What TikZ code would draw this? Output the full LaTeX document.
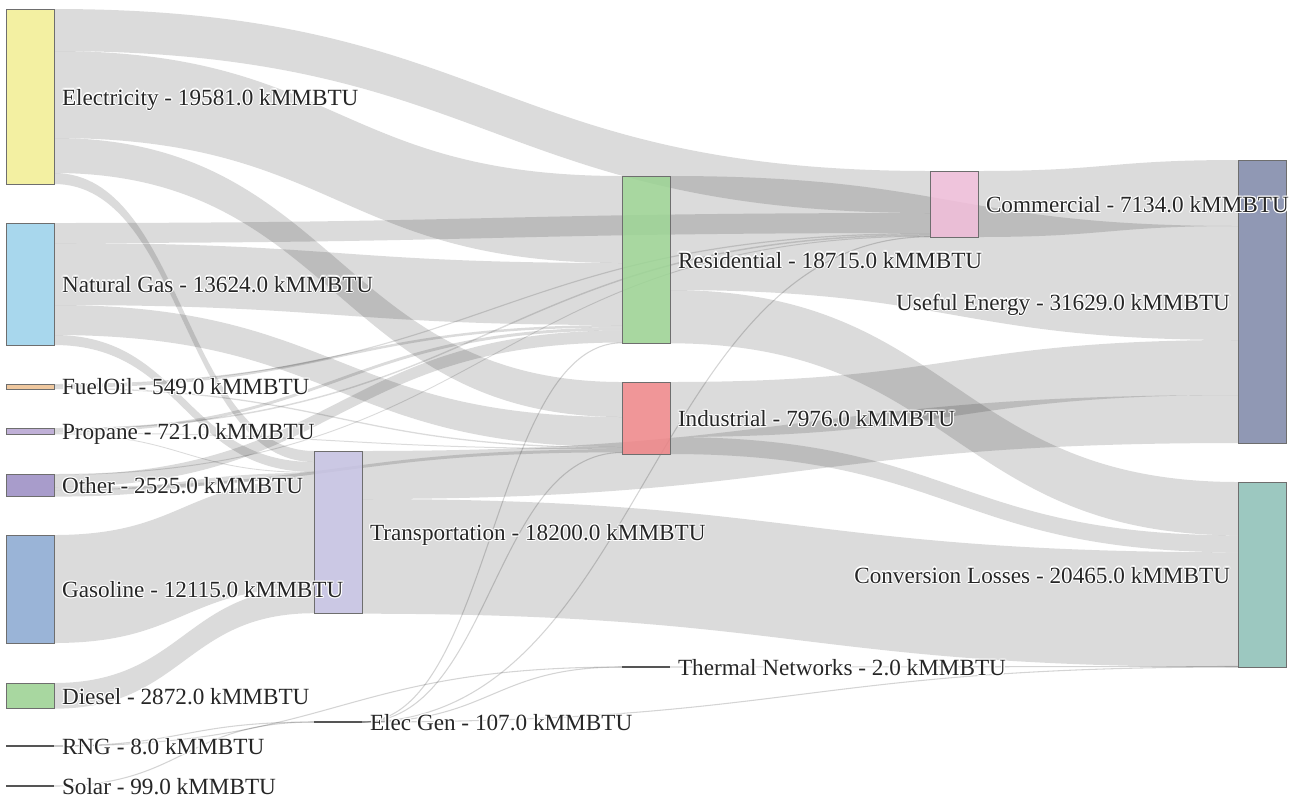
\documentclass[tikz,border=0pt]{standalone}
\usepackage{fontspec}
\setmainfont{Liberation Serif}
\usetikzlibrary{calc}
\definecolor{cE}{HTML}{F2EE92}
\definecolor{cNG}{HTML}{99D1EB}
\definecolor{cFO}{HTML}{EDBF8F}
\definecolor{cPr}{HTML}{B5A3D1}
\definecolor{cOth}{HTML}{998BC3}
\definecolor{cGas}{HTML}{89A7D1}
\definecolor{cDsl}{HTML}{99D190}
\definecolor{cTra}{HTML}{C3BFE0}
\definecolor{cRes}{HTML}{99D190}
\definecolor{cInd}{HTML}{EE8486}
\definecolor{cCom}{HTML}{EDBAD6}
\definecolor{cUE}{HTML}{7D87A7}
\definecolor{cCL}{HTML}{8BBFB5}
\definecolor{nodeborder}{HTML}{6E6E6E}
\definecolor{flatline}{HTML}{555555}
\definecolor{labelcol}{HTML}{262626}
\newcommand{\lnk}[5]{%
  \path ([yshift=-#2*0.75pt]#1.north east) coordinate (s1)
        ([yshift=-#4*0.75pt]#3.north west) coordinate (t1);
  \path ([yshift=-#5*0.75pt]s1) coordinate (s2)
        ([yshift=-#5*0.75pt]t1) coordinate (t2)
        ($(s1)!0.5!(t1)$) coordinate (m);
  \fill[band] (s1) .. controls (m|-s1) and (m|-t1) .. (t1) -- (t2)
     .. controls (m|-t2) and (m|-s2) .. (s2) -- cycle;}
\newcommand{\tlnk}[4]{%
  \path ([yshift=-#2*0.75pt]#1.north east) coordinate (s1)
        ([yshift=-#4*0.75pt]#3.north west) coordinate (t1);
  \path ($(s1)!0.5!(t1)$) coordinate (m);
  \draw[thinband] (s1) .. controls (m|-s1) and (m|-t1) .. (t1);}
\newcommand{\lbl}[5]{%
  \foreach \hx/\hy in {0.9/0,-0.9/0,0/0.9,0/-0.9,0.65/0.65,-0.65/0.65,0.65/-0.65,-0.65/-0.65}{%
    \node[lbltext, text=white, anchor=#2, xshift=\hx*1pt, yshift=\hy*1pt] at (#3,#4) {#5};}%
  \node[lbltext, anchor=#2] (#1) at (#3,#4) {#5};}
\begin{document}
\begin{tikzpicture}[x=0.75pt,y=-0.75pt,
  nodebox/.style={draw=nodeborder, line width=0.75pt, fill opacity=0.85, minimum width=36pt, inner sep=0pt, outer sep=0pt, anchor=north west},
  flat/.style={draw=flatline, line width=1.3pt, minimum width=36pt, minimum height=0pt, inner sep=0pt, outer sep=0pt, anchor=north west},
  band/.style={fill=black, fill opacity=0.14},
  thinband/.style={draw=black, draw opacity=0.17, line width=0.8pt},
  lbltext/.style={font=\fontsize{17.4}{20}\selectfont, text=labelcol, inner sep=0pt, outer sep=0pt}]
\fill[white] (0,0) rectangle (1302,801);
\useasboundingbox (0,0) rectangle (1302,801);
% nodes (geometry first, drawn later on top)
\path
  node[nodebox, fill=cE,   minimum height=131.25pt, draw=none, fill=none] (E)   at (6,9) {}
  node[nodebox, fill=cNG,  minimum height=91.5pt,   draw=none, fill=none] (NG)  at (6,223) {}
  node[nodebox, minimum height=3.75pt,  draw=none, fill=none] (FO)  at (6,384) {}
  node[nodebox, minimum height=4.8pt,   draw=none, fill=none] (Pr)  at (6,428) {}
  node[nodebox, minimum height=16.95pt, draw=none, fill=none] (Oth) at (6,474) {}
  node[nodebox, minimum height=81pt,    draw=none, fill=none] (Gas) at (6,535) {}
  node[nodebox, minimum height=19.275pt,draw=none, fill=none] (Dsl) at (6,683) {}
  node[flat, draw=none] (RNG) at (6,746) {}
  node[flat, draw=none] (Sol) at (6,786) {}
  node[nodebox, minimum height=122.025pt, draw=none, fill=none] (Tra) at (314,451) {}
  node[flat, draw=none] (EG) at (314,722) {}
  node[nodebox, minimum height=125.475pt, draw=none, fill=none] (Res) at (622,176) {}
  node[nodebox, minimum height=54pt,    draw=none, fill=none] (Ind) at (622,382) {}
  node[flat, draw=none] (TN) at (622,667) {}
  node[nodebox, minimum height=49.5pt,  draw=none, fill=none] (Com) at (930,171) {}
  node[nodebox, minimum height=212.25pt,draw=none, fill=none] (UE)  at (1238,160) {}
  node[nodebox, minimum height=138.75pt,draw=none, fill=none] (CL)  at (1238,482) {};
% links
\lnk{E}{0}{Com}{0}{42}
\lnk{E}{42}{Res}{0}{87}
\lnk{E}{129}{Ind}{0}{35}
\lnk{E}{164}{Tra}{0}{11}
\lnk{NG}{0}{Com}{42}{20}
\lnk{NG}{20}{Res}{87}{62}
\lnk{NG}{82}{Ind}{35}{30}
\lnk{NG}{112}{Tra}{11}{10}
\lnk{FO}{0}{Com}{62}{1.2}
\lnk{FO}{1.2}{Res}{149}{2.5}
\lnk{FO}{3.7}{Ind}{65}{1.3}
\lnk{Pr}{0}{Com}{63.2}{1.5}
\lnk{Pr}{1.5}{Res}{151.5}{3}
\lnk{Pr}{4.5}{Ind}{66.3}{1}
\lnk{Pr}{5.5}{Tra}{21}{0.9}
\lnk{Oth}{0}{Com}{64.7}{1}
\lnk{Oth}{1}{Res}{154.5}{12}
\lnk{Oth}{13}{Ind}{67.3}{3}
\lnk{Oth}{16}{Tra}{21.9}{6.6}
\lnk{Gas}{0}{Tra}{28.5}{108}
\lnk{Dsl}{0}{Tra}{136.5}{25.7}
\tlnk{RNG}{0}{EG}{0}
\tlnk{RNG}{0}{TN}{0}
\tlnk{Sol}{0}{EG}{0}
\tlnk{EG}{0}{Com}{65.7}
\tlnk{EG}{0}{Res}{166.8}
\tlnk{EG}{0}{Ind}{70.5}
\tlnk{EG}{0}{TN}{0}
\tlnk{EG}{0}{CL}{185}
\tlnk{TN}{0}{CL}{184.5}
\lnk{Com}{0}{UE}{0}{66}
\lnk{Res}{0}{UE}{66}{114}
\lnk{Res}{114}{CL}{0}{53.3}
\lnk{Ind}{0}{UE}{180}{55}
\lnk{Ind}{55}{CL}{53.3}{17}
\lnk{Tra}{0}{UE}{235}{48}
\lnk{Tra}{48}{CL}{70.3}{114.7}
% visible nodes
\foreach \n/\c in {E/cE,NG/cNG,FO/cFO,Pr/cPr,Oth/cOth,Gas/cGas,Dsl/cDsl,Tra/cTra,Res/cRes,Ind/cInd,Com/cCom,UE/cUE,CL/cCL}{
  \filldraw[fill=\c, fill opacity=0.85, draw=nodeborder, line width=0.75pt] (\n.north west) rectangle (\n.south east);}
\foreach \n in {RNG,Sol,EG,TN}{
  \draw[flatline, line width=1.3pt] (\n.west) -- (\n.east);}
% labels
\lbl{lE}{base west}{62}{105}{Electricity - 19581.0 kMMBTU}
\lbl{lNG}{base west}{62}{292}{Natural Gas - 13624.0 kMMBTU}
\lbl{lFO}{base west}{62}{394.5}{FuelOil - 549.0 kMMBTU}
\lbl{lPr}{base west}{62}{439.5}{Propane - 721.0 kMMBTU}
\lbl{lOth}{base west}{62}{493.5}{Other - 2525.0 kMMBTU}
\lbl{lGas}{base west}{62}{597.5}{Gasoline - 12115.0 kMMBTU}
\lbl{lDsl}{base west}{62}{704.5}{Diesel - 2872.0 kMMBTU}
\lbl{lRNG}{base west}{62}{754.5}{RNG - 8.0 kMMBTU}
\lbl{lSol}{base west}{62}{794.5}{Solar - 99.0 kMMBTU}
\lbl{lTra}{base west}{370}{540.5}{Transportation - 18200.0 kMMBTU}
\lbl{lEG}{base west}{370}{730.5}{Elec Gen - 107.0 kMMBTU}
\lbl{lRes}{base west}{678}{268}{Residential - 18715.0 kMMBTU}
\lbl{lInd}{base west}{678}{426.5}{Industrial - 7976.0 kMMBTU}
\lbl{lTN}{base west}{678}{675.5}{Thermal Networks - 2.0 kMMBTU}
\lbl{lCom}{base west}{986}{212.5}{Commercial - 7134.0 kMMBTU}
\lbl{lUE}{base east}{1230}{310}{Useful Energy - 31629.0 kMMBTU}
\lbl{lCL}{base east}{1230}{583}{Conversion Losses - 20465.0 kMMBTU}
\end{tikzpicture}
\end{document}
